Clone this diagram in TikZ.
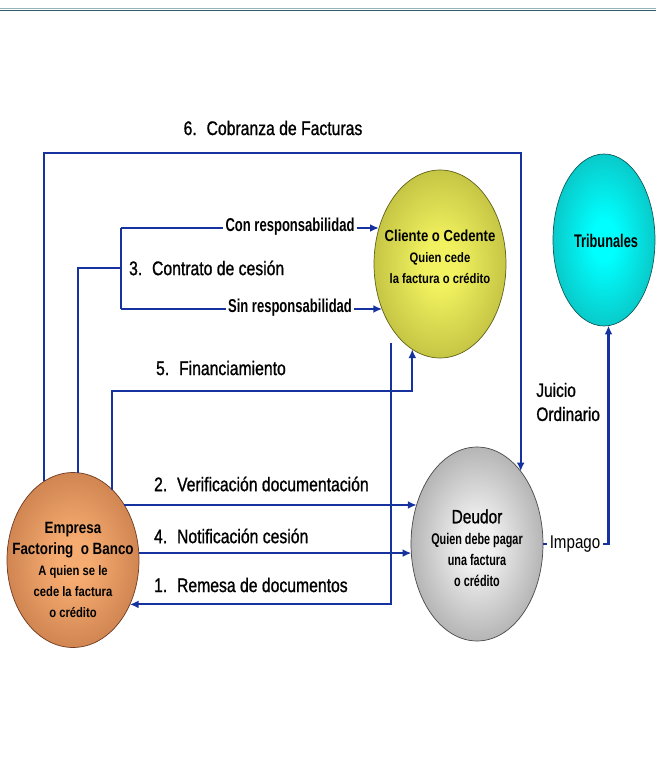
\documentclass[tikz,border=0pt]{standalone}
\usepackage{fontspec}
\setmainfont{Liberation Sans}[FakeStretch=0.82]
\newfontfamily\narrowbf{Liberation Sans Bold}[FakeStretch=0.7]
\newfontfamily\lblfont{Liberation Sans}[FakeStretch=0.8,FakeBold=1]
\usetikzlibrary{positioning,shapes.geometric,arrows.meta,calc}
\definecolor{flow-blue}{RGB}{22,50,158}
\definecolor{rule-dark}{RGB}{42,92,106}
\definecolor{rule-light}{RGB}{150,178,184}
\definecolor{empresa-in}{RGB}{246,172,112}
\definecolor{empresa-out}{RGB}{160,84,44}
\definecolor{cliente-in}{RGB}{242,242,96}
\definecolor{cliente-out}{RGB}{140,140,34}
\definecolor{tribunal-in}{RGB}{0,255,255}
\definecolor{tribunal-out}{RGB}{22,132,132}
\definecolor{deudor-in}{RGB}{240,240,240}
\definecolor{deudor-out}{RGB}{104,104,104}
\colorlet{bubin}{white}
\colorlet{bubout}{black}
\pgfdeclareradialshading[bubin,bubout]{bubble}{\pgfpoint{0bp}{0bp}}{color(0bp)=(bubin); color(6bp)=(bubin); color(50bp)=(bubout)}

\begin{document}
\begin{tikzpicture}[x=0.02cm,y=-0.02cm,
	line/.style={draw=flow-blue,line width=1.2pt},
	flow/.style={line,-{Latex[length=5pt,width=4.5pt]}},
	bubble/.style n args={3}{ellipse,minimum width=#1,minimum height=#2,inner sep=0pt,outer sep=0pt,
		/utils/exec={\colorlet{bubin}{#3-in}\colorlet{bubout}{#3-out}},shading=bubble,draw=#3-out!70!black,line width=0.4pt},
	lbl/.style={font=\lblfont\fontsize{11.2}{13}\selectfont,inner sep=1pt},
	resp/.style={font=\narrowbf\fontsize{10.6}{12}\selectfont,inner sep=1pt},
	txt/.style={align=center,inner sep=0pt}]
	\useasboundingbox (0,0) rectangle (656,780);

	% top rule
	\draw[rule-light,line width=0.6pt] (0,8.8) -- (656,8.8);
	\draw[rule-dark,line width=0.9pt] (0,10.4) -- (656,10.4);

	% actors
	\node[bubble={2.64cm}{3.5cm}{empresa}] (empresa) at (73,560) {};
	\node[bubble={2.64cm}{3.76cm}{cliente}] (cliente) at (440,264) {};
	\node[bubble={2.04cm}{3.44cm}{tribunal}] (tribunales) at (604,240) {};
	\node[bubble={2.64cm}{3.88cm}{deudor}] (deudor) at (477,544) {};

	\node[txt] at (73,570) {\bfseries\fontsize{9.3}{13.5}\selectfont Empresa\\\bfseries\fontsize{9.3}{12}\selectfont Factoring\ \ o Banco\\
		\bfseries\fontsize{7.8}{11.5}\selectfont A quien se le\\\bfseries\fontsize{7.8}{11.5}\selectfont cede la factura\\\bfseries\fontsize{7.8}{11.5}\selectfont o crédito};
	\node[txt] at (440,257) {\bfseries\fontsize{9.1}{11}\selectfont Cliente o Cedente\\\bfseries\fontsize{7.8}{11}\selectfont Quien cede\\\bfseries\fontsize{7.8}{11}\selectfont la factura o crédito};
	\node[txt,font=\narrowbf\fontsize{10.4}{12}\selectfont] at (606,241) {Tribunales};
	\node[txt] at (477,548) {\lblfont\fontsize{11}{12.5}\selectfont Deudor\\\narrowbf\fontsize{8.8}{12}\selectfont Quien debe pagar\\\narrowbf\fontsize{8.8}{12}\selectfont una\ factura\\\narrowbf\fontsize{8.8}{12}\selectfont o crédito};

	% labels
	\node[lbl] (cobranza) at (273,128) {6.\enskip Cobranza de Facturas};
	\node[resp] (conresp) at (290,227) {Con responsabilidad};
	\node[resp] (sinresp) at (290,308) {Sin responsabilidad};
	\node[lbl,anchor=west] (contrato) at (127,268) {3.\enskip Contrato de cesión};
	\node[lbl,anchor=west] (financ) at (154,368) {5.\enskip Financiamiento};
	\node[lbl,anchor=west] (verif) at (152,484) {2.\enskip Verificación documentación};
	\node[lbl,anchor=west] (notif) at (152,536) {4.\enskip Notificación cesión};
	\node[lbl,anchor=west] (remesa) at (152,585) {1.\enskip Remesa de documentos};
	\node[align=left,anchor=west,inner sep=0pt,font=\lblfont\fontsize{11}{13.7}\selectfont] (juicio) at (536,402) {Juicio\\Ordinario};
	\node[inner sep=1.5pt,font=\fontsize{10.5}{13}\selectfont] (impago) at (575,544) {Impago};

	% connectors
	\coordinate (split) at (121,268);
	\coordinate (conbr) at (121,228);
	\coordinate (sinbr) at (121,309);
	\draw[flow] (empresa.110) -- (empresa.110 |- 0,153) -| (deudor.59);
	\draw[line] (empresa.87) |- (split);
	\draw[line] (conbr) -- (sinbr);
	\draw[line] (conbr) -- (conbr -| conresp.west);
	\draw[flow] (conresp.east |- conbr) -- (conbr -| cliente.150);
	\draw[line] (sinbr) -- (sinbr -| sinresp.west);
	\draw[flow] (sinresp.east |- sinbr) -- (sinbr -| cliente.218);
	\draw[flow] (empresa.61) -- (empresa.61 |- 0,391) -| (cliente.252);
	\draw[flow] ($(cliente.232)+(0,16)$) |- (empresa.322);
	\draw[flow] (empresa.47) -- (deudor.147 |- empresa.47);
	\draw[flow] (empresa.6) -- (deudor.188 |- empresa.6);
	\draw[line] (deudor.east) -- (impago.west);
	\draw[flow] (impago.east) -| (tribunales.273);
\end{tikzpicture}
\end{document}
